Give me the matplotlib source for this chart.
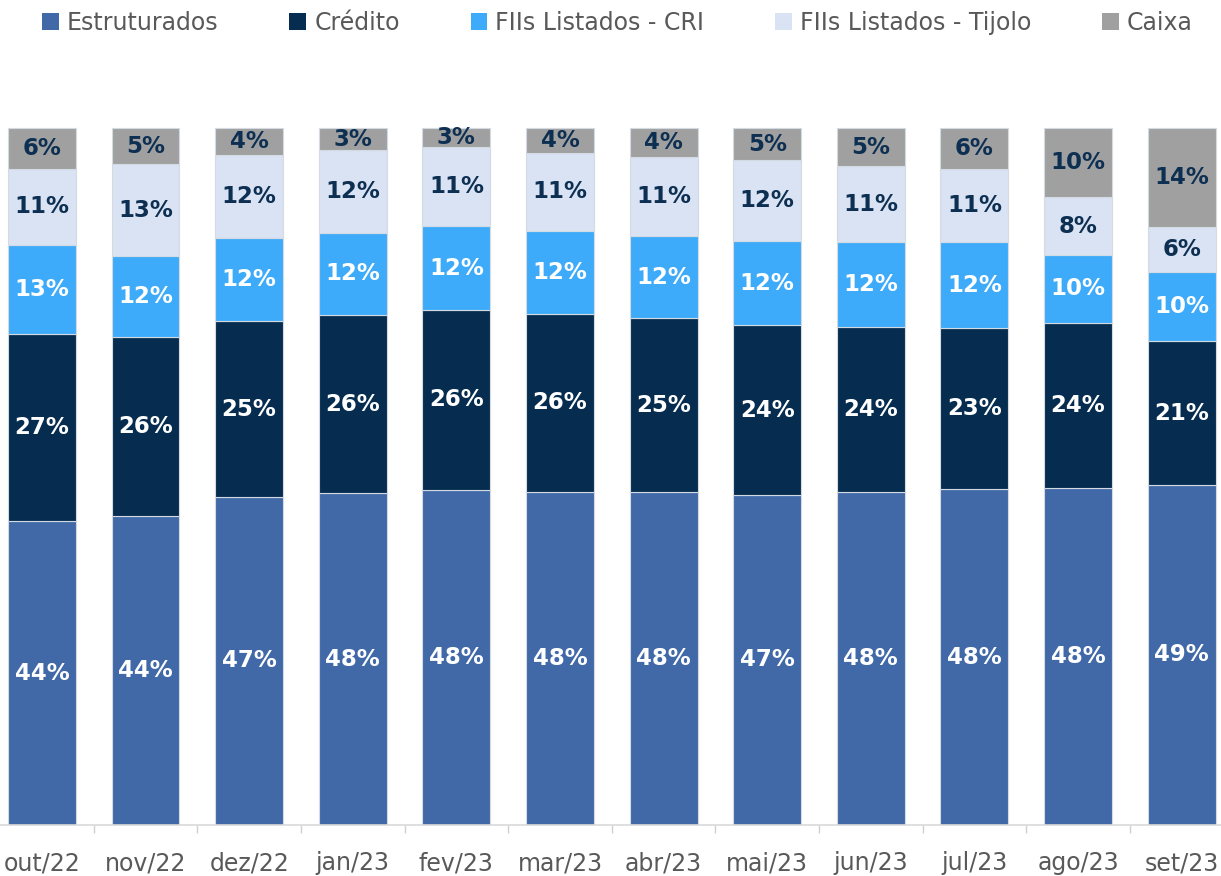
import matplotlib
matplotlib.use("Agg")
import matplotlib.pyplot as plt
from matplotlib.patches import Patch
import numpy as np

months = ['out/22', 'nov/22', 'dez/22', 'jan/23', 'fev/23', 'mar/23',
          'abr/23', 'mai/23', 'jun/23', 'jul/23', 'ago/23', 'set/23']

# allocation in %
estruturados = [43.6, 44.3, 47.1, 47.6, 48.1, 47.8, 47.8, 47.4, 47.8, 48.2, 48.4, 48.8]
credito = [26.9, 25.7, 25.2, 25.6, 25.8, 25.6, 24.9, 24.3, 23.6, 23.1, 23.7, 20.6]
fii_cri = [12.7, 11.7, 11.9, 11.8, 12.0, 11.9, 11.8, 12.1, 12.2, 12.3, 9.7, 10.0]
fii_tijolo = [11.0, 13.1, 11.9, 11.9, 11.4, 11.1, 11.3, 11.6, 11.0, 10.6, 8.3, 6.4]
caixa = [5.8, 5.2, 3.9, 3.1, 2.7, 3.6, 4.2, 4.6, 5.4, 5.8, 9.9, 14.2]

series = [
    ('Estruturados', estruturados, '#4169a8', 'white'),
    ('Crédito', credito, '#062d50', 'white'),
    ('FIIs Listados - CRI', fii_cri, '#3eabfa', 'white'),
    ('FIIs Listados - Tijolo', fii_tijolo, '#dae3f3', '#0d2f52'),
    ('Caixa', caixa, '#a0a0a0', '#0d2f52'),
]

fig = plt.figure(figsize=(12.21, 8.76), dpi=100)
ax = fig.add_axes([0, 51 / 876, 1, 825 / 876])

x = np.arange(len(months))
bottom = np.zeros(len(months))
handles = []
for name, vals, color, txtcolor in series:
    vals = np.array(vals)
    ax.bar(x, vals, bottom=bottom, width=0.655, color=color,
           edgecolor='#d4dae2', linewidth=0.8, zorder=2)
    for xi, b, v in zip(x, bottom, vals):
        ax.text(xi, b + v / 2, f'{round(v):.0f}%', ha='center', va='center',
                fontsize=16.5, fontweight='bold', color=txtcolor, zorder=3)
    bottom += vals
    handles.append(Patch(facecolor=color, edgecolor='none', label=name))

ax.set_xticks(x)
ax.set_xticklabels(months, fontsize=17, color='#595959')
ax.set_xticks(np.arange(-0.5, 11.5, 1), minor=True)
ax.tick_params(axis='x', which='major', length=0, pad=19)
ax.tick_params(axis='x', which='minor', length=6, color='#d0d0d0', width=1)
ax.set_yticks([])
# limits after the ticks, so the ticks do not widen the view
ax.set_xlim(-0.405, 11.38)
ax.set_ylim(0, 118.4)
for s in ['top', 'left', 'right']:
    ax.spines[s].set_visible(False)
ax.spines['bottom'].set_color('#d9d9d9')
ax.spines['bottom'].set_linewidth(1.2)
ax.patch.set_alpha(0)

fig.legend(handles=handles, loc='center', bbox_to_anchor=(0.5057, 0.974),
           ncol=5, frameon=False, fontsize=17, labelcolor='#595959',
           handlelength=0.7, handleheight=0.7, handletextpad=0.35,
           columnspacing=3.0)

fig.savefig('out.png', dpi=100, facecolor='white')
